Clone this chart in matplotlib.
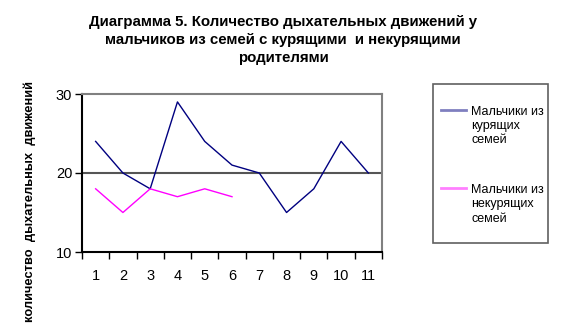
import matplotlib
matplotlib.use('Agg')
import matplotlib.pyplot as plt
from matplotlib.patches import Rectangle
from matplotlib.lines import Line2D

plt.rcParams['font.family'] = ['Liberation Sans', 'DejaVu Sans']

categories = ['1', '2', '3', '4', '5', '6', '7', '8', '9', '10', '11']
smokers = [24, 20, 18, 29, 24, 21, 20, 15, 18, 24, 20]
nonsmokers = [18, 15, 18, 17, 18, 17]
series_labels = ['Мальчики из\nкурящих\nсемей', 'Мальчики из\nнекурящих\nсемей']
series_colors = ['#000080', '#FF00FF']
title = 'Диаграмма 5. Количество дыхательных движений у\nмальчиков из семей с курящими  и некурящими\nродителями'
ylabel = 'количество  дыхательных  движений'

W, H = 569, 334
fig = plt.figure(figsize=(W / 100, H / 100), dpi=100)
# plot area in pixel coords: left 82, right 382, top 94, bottom 252
ax = fig.add_axes([82 / W, 1 - 252 / H, 300 / W, 158 / H])

x = list(range(len(categories)))
ax.plot(x, smokers, color=series_colors[0], lw=1)
ax.plot(x[:len(nonsmokers)], nonsmokers, color=series_colors[1], lw=1)

ax.set_xlim(-0.5, len(categories) - 0.5)
ax.set_ylim(10, 30)
ax.set_yticks([10, 20, 30])
ax.set_xticks(x)
ax.set_xticklabels(categories)
ax.set_xticks([i - 0.5 for i in range(len(categories) + 1)], minor=True)
ax.tick_params(axis='x', which='major', length=0, pad=12, labelsize=10.5)
ax.tick_params(axis='x', which='minor', length=5, width=1, color='black')
ax.tick_params(axis='y', length=5, width=1, pad=2, labelsize=10.5)
ax.axhline(20, color='#555555', lw=1.5, zorder=0)

for side in ['top', 'right']:
    ax.spines[side].set_color('#808080')
    ax.spines[side].set_linewidth(1.5)
for side in ['left', 'bottom']:
    ax.spines[side].set_color('black')
    ax.spines[side].set_linewidth(1.5)

fig.text(283 / W, 1 - 15 / H, title, ha='center', va='top', fontsize=10.8,
         fontweight='bold', linespacing=1.35)
fig.text(30 / W, 1 - 201 / H, ylabel, rotation=90, ha='center', va='center',
         fontsize=9.3, fontweight='bold')

# legend box drawn by hand
fig.add_artist(Rectangle((433 / W, 1 - 243 / H), 115 / W, 159 / H,
                         transform=fig.transFigure, fill=False,
                         edgecolor='#606060', lw=1.2))
for lbl, col, yy in zip(series_labels, series_colors, [110, 188]):
    fig.add_artist(Line2D([441 / W, 466 / W], [1 - yy / H, 1 - yy / H],
                          transform=fig.transFigure, color=col, lw=2, alpha=0.5))
    fig.text(471 / W, 1 - (yy - 4) / H, lbl, ha='left', va='top', fontsize=9,
             linespacing=1.25)

fig.savefig('out.png', dpi=100)
